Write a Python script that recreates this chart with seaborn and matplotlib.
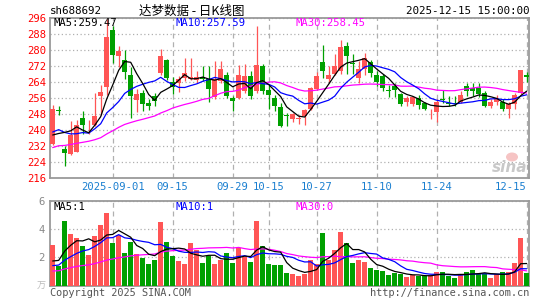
import numpy as np
import pandas as pd
import matplotlib
matplotlib.use("Agg")
import matplotlib.pyplot as plt
from matplotlib.patches import Ellipse
import seaborn as sns

# ---------------- data ----------------
holidays = ["2025-10-01", "2025-10-02", "2025-10-03", "2025-10-06", "2025-10-07", "2025-10-08"]
all_days = pd.bdate_range("2025-08-18", "2025-12-15")
dates = [d for d in all_days if d.strftime("%Y-%m-%d") not in holidays]

opens = [233.0, 250.0, 230.3, 228.0, 229.2, 246.2, 242.3, 242.5, 257.0, 261.5,
         290.0, 277.0, 275.0, 267.5, 255.0, 258.5, 253.5, 256.8, 268.5, 275.0,
         264.0, 263.7, 266.0, 265.5, 265.0, 266.5, 265.5, 256.5, 264.5, 267.5,
         256.0, 256.0, 259.5, 267.0, 259.5, 272.0, 260.0, 256.0, 251.5, 247.3,
         245.3, 245.3, 247.0, 250.5, 260.5, 274.0, 265.5, 268.0, 269.5, 282.0,
         273.5, 266.2, 270.5, 274.2, 267.5, 267.0, 259.8, 262.2, 257.8, 253.9,
         253.0, 256.0, 253.5, 246.3, 249.0, 255.5, 253.5, 253.5, 254.0, 262.0,
         261.2, 261.2, 258.3, 252.0, 254.0, 254.0, 250.3, 252.8, 258.7, 267.3]
highs = [252.5, 252.0, 232.0, 244.5, 244.8, 249.5, 245.0, 258.5, 262.5, 295.5,
         292.0, 282.0, 280.0, 271.5, 260.5, 260.0, 255.3, 258.3, 280.3, 275.5,
         266.5, 267.0, 276.0, 276.0, 269.5, 272.0, 272.0, 274.5, 274.5, 269.0,
         257.0, 272.5, 273.0, 269.5, 292.0, 273.0, 262.5, 257.5, 253.5, 248.5,
         248.5, 247.5, 250.5, 261.5, 269.0, 282.3, 272.0, 278.0, 285.0, 284.2,
         277.8, 274.5, 278.7, 275.0, 269.5, 268.0, 262.5, 263.5, 258.3, 257.0,
         257.0, 257.5, 254.2, 250.3, 255.3, 260.0, 257.0, 257.0, 259.5, 263.7,
         263.5, 263.7, 259.5, 255.3, 257.3, 255.3, 254.0, 258.7, 270.0, 269.0]
lows = [232.5, 247.5, 221.8, 227.5, 229.0, 237.8, 237.8, 242.0, 247.5, 257.5,
        273.7, 271.5, 265.5, 246.0, 249.0, 249.5, 249.8, 252.0, 267.5, 265.0,
        258.0, 259.0, 264.5, 265.0, 263.5, 264.5, 254.0, 255.5, 263.5, 256.0,
        249.5, 255.5, 258.5, 255.5, 258.5, 258.0, 250.5, 249.5, 241.5, 241.8,
        244.0, 242.8, 242.3, 250.0, 260.0, 266.0, 263.5, 267.5, 268.0, 267.8,
        267.8, 263.5, 267.5, 266.5, 262.0, 259.5, 256.5, 256.5, 252.0, 252.0,
        251.8, 250.5, 249.8, 245.3, 244.0, 253.7, 252.0, 252.0, 253.5, 257.0,
        257.0, 256.5, 251.5, 251.0, 252.5, 249.5, 246.2, 250.5, 258.0, 264.0]
closes = [250.5, 249.3, 228.3, 237.3, 242.5, 242.3, 242.6, 247.0, 259.0, 286.5,
          277.3, 279.5, 269.0, 257.0, 258.0, 252.8, 252.0, 254.3, 277.0, 266.2,
          261.5, 265.3, 268.5, 266.5, 266.5, 265.5, 260.5, 265.5, 270.5, 257.0,
          254.5, 267.5, 267.0, 257.0, 272.5, 259.5, 257.5, 252.0, 242.0, 246.8,
          247.8, 246.0, 249.8, 261.0, 267.0, 269.5, 267.3, 272.0, 281.5, 277.0,
          273.0, 270.7, 276.2, 268.7, 263.8, 261.0, 259.3, 259.8, 252.8, 256.0,
          256.3, 252.5, 250.5, 246.7, 254.0, 255.0, 253.0, 253.0, 257.3, 259.5,
          259.5, 258.2, 252.0, 254.0, 255.3, 250.3, 252.8, 257.3, 270.0, 266.7]
volumes = [2.88, 1.42, 4.59, 3.66, 3.38, 2.81, 2.17, 3.52, 4.30, 5.15,
           3.03, 3.57, 2.32, 3.10, 2.22, 1.96, 1.54, 1.82, 4.54, 3.10,
           2.10, 1.75, 1.51, 3.03, 2.53, 1.61, 2.08, 1.54, 1.82, 2.32,
           1.61, 2.67, 2.06, 1.68, 4.59, 2.81, 1.54, 1.47, 1.47, 0.90,
           0.83, 0.69, 0.83, 1.82, 1.54, 3.74, 1.82, 2.53, 3.81, 3.03,
           1.61, 1.82, 1.68, 1.25, 1.11, 1.04, 0.76, 0.90, 0.83, 0.61,
           0.76, 0.71, 0.66, 0.76, 0.97, 0.97, 0.69, 0.54, 0.83, 0.97,
           1.11, 0.83, 0.83, 0.54, 0.83, 0.97, 0.97, 1.61, 3.41, 0.90]
# closes / volumes of the 29 sessions before the window (they only feed the averages)
prior_closes = [221.5, 223.5, 222.5, 225.5, 227.5, 226.5, 224.5, 228.5, 230.5, 229.5,
                227.5, 225.5, 228.5, 231.5, 230.5, 227.5, 229.5, 232.5, 231.5, 221.5,
                237.5, 242.5, 244.5, 241.5, 236.5, 245.5, 225.5, 233.5, 232.5]
prior_volumes = [0.8, 0.9, 0.7, 0.85, 0.95, 0.8, 0.75, 0.9, 1.0, 0.85,
                 0.8, 0.7, 0.9, 0.85, 0.95, 0.8, 0.9, 0.85, 0.8, 0.95,
                 1.0, 1.1, 1.2, 1.05, 1.1, 1.2, 1.3, 1.6, 1.77]

price_ticks = [216, 224, 232, 240, 248, 256, 264, 272, 280, 288, 296]
vol_ticks = [2, 4, 6]
date_marks = ["2025-09-01", "2025-09-15", "2025-09-29", "2025-10-15",
              "2025-10-27", "2025-11-10", "2025-11-24", "2025-12-15"]
date_texts = ["2025-09-01", "09-15", "09-29", "10-15", "10-27", "11-10", "11-24", "12-15"]

title_code = "sh688692"
title_name = "达梦数据 - 日K线图"
stamp = "2025-12-15 15:00:00"
price_ma_labels = ["MA5:259.47", "MA10:257.59", "MA30:258.45"]
vol_ma_labels = ["MA5:1", "MA10:1", "MA30:0"]

# ---------------- derived ----------------
RED = "#ff5555"
GREEN = "#00a000"
n = len(closes)
x = np.arange(n)
O = np.array(opens); H = np.array(highs); L = np.array(lows); C = np.array(closes)
up = C >= O
colors = np.where(up, RED, GREEN)

full_c = pd.Series(prior_closes + closes, dtype=float)
full_v = pd.Series(prior_volumes + volumes, dtype=float)
k = len(prior_closes)
ma5 = full_c.rolling(5).mean().values[k:]
ma10 = full_c.rolling(10).mean().values[k:]
ma30 = full_c.rolling(30).mean().values[k:]
vma5 = full_v.rolling(5).mean().values[k:]
vma10 = full_v.rolling(10).mean().values[k:]
vma30 = full_v.rolling(30).mean().values[k:]

date_strs = [d.strftime("%Y-%m-%d") for d in dates]
date_pos = [date_strs.index(d) for d in date_marks]

# ---------------- drawing ----------------
sns.set_style("white")
MONO = ["DejaVu Sans Mono"]
CJK = ["Noto Sans CJK SC", "DejaVu Sans"]
plt.rcParams["font.family"] = ["DejaVu Sans Mono", "Noto Sans CJK SC"]

W, Hh = 545, 300
fig = plt.figure(figsize=(W / 100, Hh / 100), dpi=100)
fig.patch.set_facecolor("white")

def fx(px):
    return px / W

def fy(py):
    return 1 - py / Hh

x_left, x_right = 50, 529
p_top, p_bot = 18, 178
v_top, v_bot = 201, 285.7
xlim = ((x_left - 52.7) / 6.0, (x_right - 52.7) / 6.0)

ax = fig.add_axes([fx(x_left), fy(p_bot), fx(x_right - x_left), (p_bot - p_top) / Hh])
axv = fig.add_axes([fx(x_left), fy(v_bot), fx(x_right - x_left), (v_bot - v_top) / Hh])

GRID = "#b0b0b0"
for a in (ax, axv):
    a.set_facecolor("white")
    for s in a.spines.values():
        s.set_color("#9a9a9a")
        s.set_linewidth(1.3)
    a.tick_params(length=0)

# watermark (behind the candles)
fig.text(fx(527), fy(167), "sina", fontsize=11, family=["DejaVu Sans"], weight="bold", style="italic",
         color="#c8c8c8", va="center", ha="right", zorder=0)
fig.patches.append(Ellipse((fx(512), fy(157)), 12 / W, 9 / Hh, transform=fig.transFigure,
                           facecolor="#f6c4c4", edgecolor="none", zorder=0))

# candles
ax.vlines(x, L, H, colors=colors, linewidth=0.9, zorder=3)
body_low = np.minimum(O, C)
body_h = np.maximum(np.abs(C - O), 0.45)
ax.bar(x, body_h, bottom=body_low, width=0.74, color=colors, linewidth=0, zorder=4)

sns.lineplot(x=x, y=ma30, color="#ff00ff", linewidth=0.9, ax=ax, zorder=5)
sns.lineplot(x=x, y=ma10, color="#0000ff", linewidth=0.9, ax=ax, zorder=6)
sns.lineplot(x=x, y=ma5, color="black", linewidth=0.9, ax=ax, zorder=7)

ax.set_xlim(*xlim)
ax.set_ylim(price_ticks[0], price_ticks[-1])
ax.set_yticks(price_ticks)
ax.set_yticklabels([str(t) for t in price_ticks], color="#ff0000", fontsize=7.6, family=MONO)
ax.tick_params(axis="y", pad=3)
ax.set_xticks(date_pos)
ax.set_xticklabels(date_texts, color="#1a7fd0", fontsize=7.6, family=MONO)
ax.get_xticklabels()[-1].set_horizontalalignment("right")
ax.tick_params(axis="x", pad=3)
ax.set_xlabel(""); ax.set_ylabel("")
ax.yaxis.grid(True, linestyle=(0, (1, 2)), color=GRID, linewidth=0.9)
ax.xaxis.grid(True, linestyle=(0, (4, 3)), color=GRID, linewidth=0.9)
ax.set_axisbelow(True)
ax.patch.set_alpha(0)

# volume
vdf = pd.DataFrame({"x": x, "vol": volumes, "dir": np.where(up, "up", "down")})
sns.barplot(data=vdf, x="x", y="vol", hue="dir", palette={"up": RED, "down": GREEN},
            native_scale=True, width=0.78, dodge=False, legend=False, errorbar=None,
            saturation=1, linewidth=0, ax=axv, zorder=3)
sns.lineplot(x=x, y=vma30, color="#ff00ff", linewidth=0.9, ax=axv, zorder=5)
sns.lineplot(x=x, y=vma10, color="#0000ff", linewidth=0.9, ax=axv, zorder=6)
sns.lineplot(x=x, y=vma5, color="black", linewidth=0.9, ax=axv, zorder=7)
axv.set_xlim(*xlim)
axv.set_ylim(0, 6)
axv.set_yticks(vol_ticks)
axv.set_yticklabels([str(t) for t in vol_ticks], color="#888888", fontsize=7.6, family=MONO)
axv.tick_params(axis="y", pad=4)
axv.set_xticks(date_pos)
axv.set_xticklabels([])
axv.set_xlabel(""); axv.set_ylabel("")
axv.yaxis.grid(True, linestyle=(0, (1, 2)), color=GRID, linewidth=0.9)
axv.xaxis.grid(True, linestyle=(0, (4, 3)), color=GRID, linewidth=0.9)
axv.set_axisbelow(True)

# texts
fig.text(fx(50), fy(11), title_code, fontsize=7.8, family=MONO, color="black", va="center", ha="left")
fig.text(fx(192), fy(11), title_name, fontsize=9, family=CJK, color="black", va="center", ha="center")
fig.text(fx(529), fy(11), stamp, fontsize=7.8, family=MONO, color="black", va="center", ha="right")

label_x = [54, 175, 295]
label_c = ["black", "#0000ff", "#ff00ff"]
for lx, lc, t in zip(label_x, label_c, price_ma_labels):
    fig.text(fx(lx), fy(23.5), t, fontsize=7.6, family=MONO, color=lc, va="center")
for lx, lc, t in zip(label_x, label_c, vol_ma_labels):
    fig.text(fx(lx), fy(206.5), t, fontsize=7.6, family=MONO, color=lc, va="center")

fig.text(fx(46), fy(286), "万", fontsize=6.5, family=CJK, color="#bbbbbb", va="center", ha="right")
fig.text(fx(50), fy(292.5), "Copyright 2025 SINA.COM", fontsize=7.4, family=MONO,
         color="#555555", va="center", ha="left")
fig.text(fx(529), fy(292.5), "http://finance.sina.com.cn", fontsize=7.4, family=MONO,
         color="#555555", va="center", ha="right")

fig.savefig("out.png", dpi=100, facecolor="white")
